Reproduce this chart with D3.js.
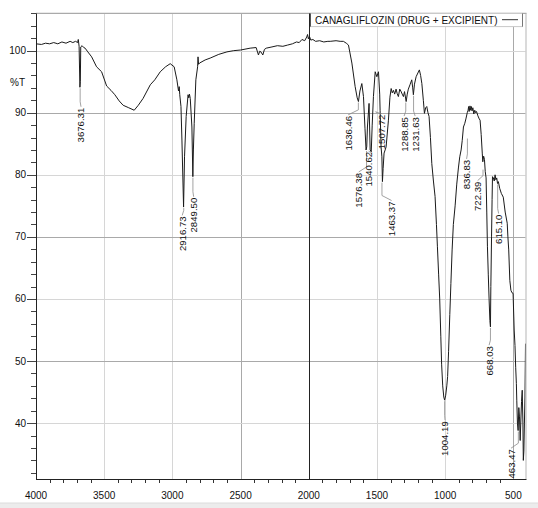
<!DOCTYPE html>
<html><head><meta charset="utf-8">
<script src="https://cdn.jsdelivr.net/npm/d3@7/dist/d3.min.js"></script>
<style>
body{margin:0;background:#fff;}
svg{display:block;}
text{font-family:"Liberation Sans",Arial,sans-serif;fill:#111;}
</style>
</head><body>
<svg id="chart" width="538" height="508"></svg>
<script>
// ---------- DATA ----------
const seriesName = "CANAGLIFLOZIN (DRUG + EXCIPIENT)";
const wavenumber = [4000,3960,3930,3900,3870,3840,3810,3780,3750,3730,3710,3695,3690,3684,3678,3675,3672,3662,3650,3640,3620,3592,3556,3519,3482,3450,3422,3390,3361,3320,3280,3250,3215,3162,3129,3089,3050,3016,2987,2967,2955,2950,2946,2937,2930,2918,2911,2899,2885,2880,2875,2869,2857,2850,2846,2840,2828,2815,2812,2808,2801,2760,2723,2660,2600,2550,2500,2430,2386,2369,2360,2351,2337,2325,2312,2270,2230,2190,2155,2120,2090,2070,2050,2030,2015,2009,2003,1995,1985,1970,1950,1920,1890,1860,1843,1800,1770,1746,1725,1709,1684,1660,1645,1636,1625,1611,1599,1588,1580,1575,1570,1558,1550,1542,1535,1526,1513,1501,1489,1480,1477,1470,1464,1460,1455,1448,1440,1433,1416,1405,1396,1388,1379,1370,1360,1352,1343,1333,1325,1315,1306,1298,1286,1278,1270,1258,1245,1238,1233,1225,1213,1200,1189,1180,1171,1160,1152,1143,1135,1126,1118,1108,1098,1086,1074,1064,1057,1048,1040,1032,1026,1018,1010,1004,996,988,982,975,966,958,949,940,927,915,903,893,883,875,866,856,848,838,832,828,824,818,813,808,803,797,790,783,776,770,760,750,744,736,728,724,718,712,706,700,695,690,684,678,672,668,665,660,656,653,647,640,634,628,622,616,610,600,588,574,560,545,540,534,526,518,510,502,494,488,483,478,475,470,465,460,455,450,445,440,435,430,427,423,419,415,411];
const transmittance = [101.1,101.0,101.2,101.1,101.3,101.1,101.4,101.2,101.5,101.3,101.5,101.3,101.8,100.7,94.1,95.0,100.6,100.8,100.5,100.4,99.8,99.0,97.4,96.6,94.3,93.6,92.9,91.9,91.2,90.8,90.4,91.2,92.3,94.5,95.3,96.6,97.4,97.9,97.4,95.3,93.5,94.2,92.9,91.0,85.6,74.8,82.9,89.4,92.9,92.4,93.0,92.3,87.7,79.7,84.0,88.3,95.3,97.4,99.0,97.8,98.0,98.5,98.8,99.4,99.8,100.0,100.1,100.4,100.5,99.3,99.9,99.8,99.3,100.2,100.4,100.6,100.8,100.7,100.9,101.1,101.4,101.3,101.8,101.6,102.2,102.6,101.9,102.3,101.7,101.8,101.5,101.6,101.4,101.5,101.5,101.6,101.5,101.5,101.2,100.9,98.0,94.2,92.4,91.8,93.5,94.7,92.6,87.5,84.0,84.5,87.7,91.5,84.0,83.7,88.0,92.6,96.6,95.8,96.6,93.0,90.4,84.5,82.9,78.9,81.0,83.5,84.0,84.5,88.8,92.5,93.9,93.2,93.6,93.0,93.8,93.1,92.6,93.8,93.5,93.0,92.6,93.4,91.8,93.0,93.8,94.5,95.3,94.0,92.9,94.6,95.8,96.4,96.9,96.0,94.7,92.0,89.9,90.8,91.0,90.0,89.4,86.0,81.8,79.0,76.5,72.0,68.5,64.0,60.0,54.0,49.5,46.0,44.2,43.7,44.5,46.0,47.5,51.5,57.5,62.5,67.9,72.0,75.0,78.5,81.1,82.9,84.0,85.5,87.7,88.3,89.0,90.0,90.4,91.0,90.2,91.1,90.4,91.0,90.3,90.8,89.8,90.4,90.0,90.2,89.5,89.0,88.8,86.5,83.5,82.1,83.0,82.5,80.5,79.5,74.0,68.4,64.0,60.0,56.5,55.5,62.0,70.0,76.0,79.7,79.5,79.0,80.0,79.2,79.5,78.6,78.9,77.8,77.0,76.4,74.0,72.2,70.0,67.9,63.0,61.4,61.0,60.9,55.0,52.5,49.0,46.4,43.7,40.0,38.8,42.5,41.0,37.2,40.5,43.5,45.3,40.0,34.0,35.5,40.0,44.2,52.8];

const peakLabels = ["3676.31","2916.73","2849.50","1636.46","1576.38","1540.62","1507.72","1463.37","1288.85","1231.63","1004.19","836.83","722.39","615.10","668.03","463.47"];
const peakT      = [94.1, 74.8, 79.7, 91.8, 84.0, 83.7, 90.4, 78.9, 91.8, 92.9, 43.7, 86.0, 81.0, 78.6, 55.5, 38.8];

const xTickValues = [4000,3500,3000,2500,2000,1500,1000,500];
const yTickValues = [40,50,60,70,80,90,100];
const yAxisTitle = "%T";

// ---------- LAYOUT (placement of peak labels, in data units) ----------
const labelWn  = [3670, 2928, 2844, 1711, 1634, 1561, 1466, 1393, 1301, 1220, 1001, 843, 762, 608, 678, 517];
const labelTop = [90.8, 73.3, 76.3, 89.5, 80.3, 83.7, 89.7, 75.7, 89.3, 89.3, 40.3, 82.4, 78.9, 73.6, 52.4, 35.8];

// ---------- CHART ----------
const W = 538, H = 508;
const L = 36, R = 525.5, T = 13.4, B = 479;
const svg = d3.select("#chart");

const x = d3.scaleLinear().domain([4000, 411]).range([L, R]);
const y = d3.scaleLinear().domain([31, 106]).range([B, T]);

// bottom grey strip
svg.append("rect").attr("x",0).attr("y",503).attr("width",W).attr("height",5).attr("fill","#ececec");
svg.append("line").attr("x1",0).attr("x2",W).attr("y1",503).attr("y2",503).attr("stroke","#dcdcdc");

// grid
const darkX = new Set([2500, 500]);
const darkY = new Set([90, 70, 50]);
svg.append("g").selectAll("line").data(xTickValues.filter(v => v < 4000 && v !== 2000)).join("line")
  .attr("x1", d => Math.round(x(d)) + 0.5).attr("x2", d => Math.round(x(d)) + 0.5)
  .attr("y1", T).attr("y2", B)
  .attr("stroke", d => darkX.has(d) ? "#a9a9a9" : "#d6d6d6").attr("stroke-width", 1);
svg.append("g").selectAll("line").data(yTickValues).join("line")
  .attr("x1", L).attr("x2", R)
  .attr("y1", d => Math.round(y(d)) + 0.5).attr("y2", d => Math.round(y(d)) + 0.5)
  .attr("stroke", d => darkY.has(d) ? "#a9a9a9" : "#d6d6d6").attr("stroke-width", 1);

// top and right border
svg.append("line").attr("x1",L).attr("x2",R+1).attr("y1",T).attr("y2",T).attr("stroke","#aaaaaa").attr("stroke-width",1.4);
svg.append("line").attr("x1",R+0.5).attr("x2",R+0.5).attr("y1",T).attr("y2",B).attr("stroke","#b5b5b5").attr("stroke-width",1);

// black marker line at 2000
svg.append("line").attr("x1",Math.round(x(2000))+0.5).attr("x2",Math.round(x(2000))+0.5)
  .attr("y1",T).attr("y2",B).attr("stroke","#222").attr("stroke-width",1);

// clip
svg.append("defs").append("clipPath").attr("id","clip").append("rect")
  .attr("x",L).attr("y",T).attr("width",R-L).attr("height",B-T);

// spectrum
const pts = wavenumber.map((w,i) => [w, transmittance[i]]);
const line = d3.line().x(d => x(d[0])).y(d => y(d[1]));
svg.append("path").datum(pts).attr("clip-path","url(#clip)")
  .attr("d", line).attr("fill","none").attr("stroke","#1a1a1a").attr("stroke-width",1).attr("stroke-linejoin","round");

// peak labels + leaders
const pg = svg.append("g").attr("clip-path","url(#clip)");
peakLabels.forEach((lab, i) => {
  const pw = +lab;
  const px = x(pw), py = y(peakT[i]);
  const lx = x(labelWn[i]), ly = y(labelTop[i]);
  const midY = Math.max(py + 2, ly - 6);
  pg.append("path")
    .attr("d", d3.line()([[px, py + 1], [px, midY], [lx, ly - 1]]))
    .attr("fill","none").attr("stroke","#8a8a8a").attr("stroke-width",0.8);
  pg.append("text")
    .attr("transform", `translate(${lx},${ly}) rotate(-90)`)
    .attr("text-anchor","end").attr("dy","0.36em")
    .attr("font-size","9.6px").text(lab);
});

// legend
const lgX = Math.round(x(2000)) + 1, lgR = 522;
svg.append("rect").attr("x", lgX + 0.5).attr("y", T).attr("width", lgR - lgX).attr("height", 13.2)
  .attr("fill","#fff").attr("stroke","#c8c8c8").attr("stroke-width",1);
svg.append("line").attr("x1",lgR+0.5).attr("x2",lgR+0.5).attr("y1",T).attr("y2",T+13.2).attr("stroke","#777");
svg.append("line").attr("x1",lgX+0.5).attr("x2",lgX+0.5).attr("y1",T).attr("y2",T+13.2).attr("stroke","#555");
svg.append("text").attr("x", lgX + 5).attr("y", T + 10.2).attr("font-size","10px").text(seriesName);
svg.append("line").attr("x1",502).attr("x2",518).attr("y1",T+6.3).attr("y2",T+6.3).attr("stroke","#333").attr("stroke-width",1);

// axes
const xMinor = d3.range(4000, 410, -100).filter(v => v % 500 !== 0);
svg.append("g").selectAll("line").data(xMinor).join("line")
  .attr("x1", d => Math.round(x(d)) + 0.5).attr("x2", d => Math.round(x(d)) + 0.5)
  .attr("y1", B).attr("y2", B + 4).attr("stroke","#333");
svg.append("line").attr("x1",L).attr("x2",R+1).attr("y1",B+0.5).attr("y2",B+0.5).attr("stroke","#222");
svg.append("g").selectAll("text").data(xTickValues).join("text")
  .attr("x", d => x(d)).attr("y", B + 20).attr("text-anchor","middle").attr("font-size","10px")
  .text(d => d);

const yMinor = d3.range(32, 107, 2).filter(v => v % 10 !== 0);
svg.append("g").selectAll("line").data(yMinor).join("line")
  .attr("x1", L - 5).attr("x2", L)
  .attr("y1", d => Math.round(y(d)) + 0.5).attr("y2", d => Math.round(y(d)) + 0.5).attr("stroke","#444");
svg.append("g").selectAll("line").data(yTickValues).join("line")
  .attr("x1", L - 9).attr("x2", L)
  .attr("y1", d => Math.round(y(d)) + 0.5).attr("y2", d => Math.round(y(d)) + 0.5).attr("stroke","#444");
svg.append("line").attr("x1",L+0.5).attr("x2",L+0.5).attr("y1",T).attr("y2",B+1).attr("stroke","#222");
svg.append("g").selectAll("text").data(yTickValues).join("text")
  .attr("x", L - 10).attr("y", d => y(d)).attr("dy","0.35em").attr("text-anchor","end").attr("font-size","10px")
  .text(d => d);
svg.append("text").attr("x", 17.5).attr("y", 82).attr("dy","0.35em").attr("text-anchor","middle")
  .attr("font-size","10px").text(yAxisTitle);
</script>
</body></html>
